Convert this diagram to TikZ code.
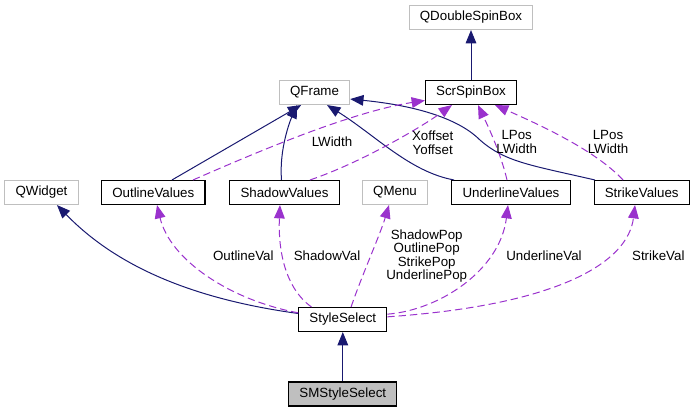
\documentclass[tikz,border=0pt]{standalone}
\usepackage{fontspec}
\setmainfont{Liberation Sans}
\usetikzlibrary{arrows.meta}
\definecolor{edgeblue}{HTML}{191970}
\definecolor{edgepurple}{HTML}{9A32CD}
\definecolor{boxgray}{HTML}{BFBFBF}
\begin{document}
\begin{tikzpicture}[x=0.75pt, y=-0.75pt,
  every node/.style={font=\fontsize{10pt}{10.2pt}\selectfont},
  cls/.style={draw, line width=0.8pt, minimum height=18pt, inner xsep=8pt, inner ysep=0pt},
  ext/.style={cls, draw=boxgray},
  cur/.style={cls, fill=boxgray},
  lbl/.style={align=center, inner sep=0pt},
  inh/.style={edgeblue, line width=0.75pt, -{Triangle[length=10pt,width=8pt]}},
  usage/.style={edgepurple, line width=0.75pt, dash pattern=on 5.5pt off 3pt, -{Triangle[length=10pt,width=8pt]}}]
\useasboundingbox (0,0) rectangle (695,412);
\node[ext] (cls0) at (471,17.5){QDoubleSpinBox};
\node[cls] (cls1) at (471,92.5){ScrSpinBox};
\node[ext] (cls2) at (314.5,92.5){QFrame};
\node[ext] (cls3) at (41.5,192.5){QWidget};
\node[cls] (cls4) at (153.3,192.5){OutlineValues};
\node[cls] (cls5) at (284.5,192.5){ShadowValues};
\node[ext] (cls6) at (395,192.5){QMenu};
\node[cls] (cls7) at (511,192.5){UnderlineValues};
\node[cls] (cls8) at (641.7,192.5){StrikeValues};
\node[cls] (cls9) at (342.8,319.5){StyleSelect};
\node[cur] (cls10) at (342.8,394){SMStyleSelect};
\draw[inh](cls1) -- (cls0);
\draw[inh]([xshift=14pt]cls4.north) -- ([xshift=-10pt]cls2.south);
\draw[inh]([xshift=-2.25pt]cls5.north) .. controls +(-2.5,-30.5) and +(-7,15.5) .. ([xshift=-13pt]cls2.south);
\draw[inh]([xshift=2pt]cls7.north west) .. controls (410,172) and (375,135) .. ([xshift=9.4pt]cls2.south);
\draw[inh]([xshift=1pt]cls8.north west) .. controls (530,165) and (505,162) .. (480,140) .. controls (460,120) and (420,106) .. ([yshift=-4.9pt]cls2.east);
\draw[usage]([xshift=29.8pt]cls4.north) .. controls (250,155) and (350,112) .. ([yshift=-6pt]cls1.west);
\draw[usage]([xshift=19.1pt]cls5.north) .. controls (360,163) and (420,128) .. ([xshift=-14.25pt]cls1.south);
\draw[usage]([xshift=-3pt]cls7.north) .. controls (500,150) and (485,120) .. ([xshift=5.25pt]cls1.south);
\draw[usage]([xshift=-14pt]cls8.north) .. controls (595,150) and (540,125) .. ([xshift=18pt]cls1.south);
\draw[inh]([yshift=4.5pt]cls9.west) .. controls (200,300) and (120,270) .. ([xshift=11.6pt]cls3.south);
\draw[usage]([yshift=5pt]cls9.west) .. controls (230,300) and (170,260) .. ([xshift=2.8pt]cls4.south);
\draw[usage]([xshift=-23.5pt]cls9.north) .. controls (285,288) and (278,250) .. ([xshift=-3.4pt]cls5.south);
\draw[usage]([xshift=6.2pt]cls9.north) .. controls (362,275) and (380,235) .. ([xshift=-4.5pt]cls6.south);
\draw[usage]([yshift=4pt]cls9.east) .. controls (440,310) and (500,270) .. ([xshift=-2.25pt]cls7.south);
\draw[usage]([yshift=2pt]cls9.east) .. controls (560,305) and (628,262) .. ([xshift=-5pt]cls8.south);
\draw[inh](cls10) -- (cls9);
\node[lbl] (lbl0) at (332,142){LWidth};
\node[lbl] (lbl1) at (432.7,142.5){Xoffset\\Yoffset};
\node[lbl] (lbl2) at (516.7,142){LPos\\LWidth};
\node[lbl] (lbl3) at (608,142){LPos\\LWidth};
\node[lbl] (lbl4) at (243.3,255.7){OutlineVal};
\node[lbl] (lbl5) at (327,255.7){ShadowVal};
\node[lbl] (lbl6) at (426.7,256){ShadowPop\\OutlinePop\\StrikePop\\UnderlinePop};
\node[lbl] (lbl7) at (544,255.7){UnderlineVal};
\node[lbl] (lbl8) at (658.3,255.7){StrikeVal};
\end{tikzpicture}
\end{document}
